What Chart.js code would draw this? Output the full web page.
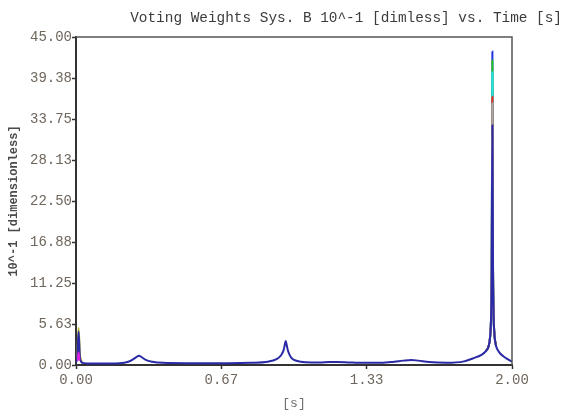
<!DOCTYPE html>
<html>
<head>
<meta charset="utf-8">
<script src="https://cdn.jsdelivr.net/npm/chart.js@4/dist/chart.umd.min.js"></script>
<style>
  html, body { margin: 0; padding: 0; background: #ffffff; }
  #wrap { width: 566px; height: 411px; }
</style>
</head>
<body>
<div id="wrap"><canvas id="c" width="566" height="411"></canvas></div>
<script>
// Main voting-weight trace (time in s, weight in 10^-1)
const mainTime = [0, 0.006, 0.012, 0.018, 0.03, 0.05, 0.1, 0.2, 0.24, 0.26, 0.275, 0.289, 0.30, 0.32, 0.35, 0.4, 0.5, 0.6, 0.7, 0.8, 0.88, 0.92, 0.94, 0.952, 0.958, 0.962, 0.966, 0.972, 0.985, 1.0, 1.03, 1.08, 1.12, 1.16, 1.2, 1.25, 1.3, 1.4, 1.46, 1.5, 1.537, 1.57, 1.62, 1.7, 1.78, 1.82, 1.86, 1.88, 1.893, 1.9, 1.904, 1.907, 1.91, 1.913, 1.916, 1.92, 1.927, 1.94, 1.96, 1.98, 2.0];
const mainWeight = [0.3, 1.2, 4.6, 1.0, 0.3, 0.22, 0.2, 0.25, 0.45, 0.75, 1.05, 1.28, 1.1, 0.7, 0.45, 0.3, 0.25, 0.25, 0.25, 0.3, 0.45, 0.8, 1.3, 2.0, 2.8, 3.3, 2.8, 2.0, 1.1, 0.7, 0.45, 0.35, 0.35, 0.4, 0.4, 0.35, 0.3, 0.3, 0.45, 0.6, 0.7, 0.6, 0.4, 0.3, 0.5, 0.9, 1.4, 1.9, 2.6, 4, 6.5, 13, 32.9, 13, 6.5, 4, 2.6, 1.8, 1.2, 0.8, 0.45];

// Other systems around the large peak
const peakTime = [1.88, 1.893, 1.9, 1.904, 1.907, 1.91, 1.913, 1.916, 1.92, 1.927];
const grayWeight  = [1.9, 2.6, 4, 6.5, 13, 35.9, 13, 6.5, 4, 2.6];
const redWeight   = [1.9, 2.6, 4, 6.5, 13, 36.8, 13, 6.5, 4, 2.6];
const cyanWeight  = [1.9, 2.6, 4, 6.5, 13, 40.2, 13, 6.5, 4, 2.6];
const greenWeight = [1.9, 2.6, 4, 6.5, 13, 41.8, 13, 6.5, 4, 2.6];
const blueWeight  = [1.9, 2.6, 4, 6.5, 13, 43.0, 13, 6.5, 4, 2.6];

// Start-up transients near t = 0
const startTime = [0, 0.006, 0.012, 0.018, 0.03];
const yellowWeight = [0.3, 1.5, 5.1, 1.5, 0.25];
const magentaTime = [0.008, 0.012, 0.016];
const magentaWeight = [0.6, 1.7, 0.6];

// Axis ticks
const xTickValues = [0, 2 / 3, 4 / 3, 2];
const xTickLabels = ['0.00', '0.67', '1.33', '2.00'];
const yTickValues = [0, 5.625, 11.25, 16.875, 22.5, 28.125, 33.75, 39.375, 45];
const yTickLabels = ['0.00', '5.63', '11.25', '16.88', '22.50', '28.13', '33.75', '39.38', '45.00'];

const pts = (t, v) => t.map((x, i) => ({ x: x, y: v[i] }));

function series(label, t, v, color) {
  return {
    label: label,
    data: pts(t, v),
    borderColor: color,
    borderWidth: 2,
    pointRadius: 0,
    fill: false,
    cubicInterpolationMode: 'monotone'
  };
}

const mono = 'Liberation Mono, Courier New, monospace';

const framePlugin = {
  id: 'frame',
  afterDraw(chart) {
    const { ctx, chartArea: a } = chart;
    ctx.save();
    ctx.strokeStyle = '#555555';
    ctx.lineWidth = 1.5;
    ctx.beginPath();
    ctx.moveTo(a.left, a.top);
    ctx.lineTo(a.right, a.top);
    ctx.lineTo(a.right, a.bottom);
    ctx.stroke();
    ctx.fillStyle = '#3c3c3c';
    ctx.font = '14.4px ' + mono;
    ctx.textAlign = 'right';
    ctx.textBaseline = 'middle';
    ctx.fillText('Voting Weights Sys. B 10^-1 [dimless] vs. Time [s]', 562, 18);
    ctx.restore();
  }
};

new Chart(document.getElementById('c'), {
  type: 'line',
  data: {
    datasets: [
      series('Magenta', magentaTime, magentaWeight, '#e020e0'),
      series('Sys. B', mainTime, mainWeight, '#2a2aa6'),
      series('Gray', peakTime, grayWeight, '#a8a8a8'),
      series('Red', peakTime, redWeight, '#ff2020'),
      series('Cyan', peakTime, cyanWeight, '#20e8e8'),
      series('Green', peakTime, greenWeight, '#20c020'),
      series('Blue', peakTime, blueWeight, '#2030e0'),
      series('Yellow', startTime, yellowWeight, '#b8b830')
    ]
  },
  options: {
    responsive: false,
    animation: false,
    layout: { padding: { left: 0, top: 37, right: 54, bottom: 0 } },
    plugins: { legend: { display: false }, tooltip: { enabled: false }, title: { display: false } },
    scales: {
      x: {
        type: 'linear',
        min: 0,
        max: 2,
        afterBuildTicks: s => { s.ticks = xTickValues.map(v => ({ value: v })); },
        afterFit: s => { s.height = 46; },
        ticks: {
          autoSkip: false,
          maxRotation: 0,
          padding: 3,
          color: '#6f665c',
          font: { family: mono, size: 14 },
          callback: (v, i) => xTickLabels[i]
        },
        grid: { drawOnChartArea: false, drawTicks: true, tickLength: 4, tickColor: '#333333', tickWidth: 1.5 },
        border: { display: true, color: '#333333', width: 2 },
        title: {
          display: true,
          text: '[s]',
          color: '#6f6f6f',
          font: { family: mono, size: 13 },
          padding: { top: 0, bottom: 0 }
        }
      },
      y: {
        type: 'linear',
        min: 0,
        max: 45,
        afterBuildTicks: s => { s.ticks = yTickValues.map(v => ({ value: v })); },
        afterFit: s => { s.width = 76; },
        ticks: {
          autoSkip: false,
          padding: 0,
          color: '#6f665c',
          font: { family: mono, size: 14 },
          callback: (v, i) => yTickLabels[i]
        },
        grid: { drawOnChartArea: false, drawTicks: true, tickLength: 4, tickColor: '#333333', tickWidth: 1.5 },
        border: { display: true, color: '#333333', width: 2 },
        title: {
          display: true,
          text: '10^-1 [dimensionless]',
          color: '#4a4a4a',
          font: { family: mono, size: 12, weight: 'bold' },
          padding: { top: 7, bottom: 0 }
        }
      }
    }
  },
  plugins: [framePlugin]
});
</script>
</body>
</html>
